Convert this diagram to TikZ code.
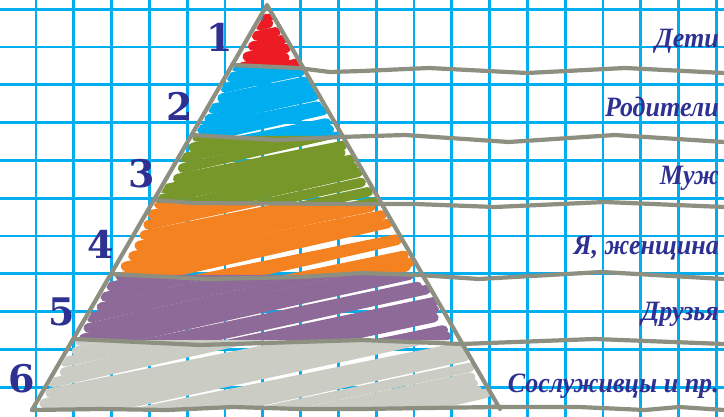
\documentclass[tikz,border=0pt]{standalone}
\usepackage{fontspec}
\setmainfont{Liberation Serif}
\newfontfamily\numfont{DejaVu Serif}
\newfontfamily\labfont[FakeStretch=0.93]{Liberation Serif}
\definecolor{gridc}{HTML}{00AEEF}
\definecolor{edgec}{HTML}{8D8F80}
\definecolor{numc}{HTML}{2E3192}
\definecolor{cred}{HTML}{ED1C24}
\definecolor{cblue}{HTML}{00AEEF}
\definecolor{cgreen}{HTML}{77972A}
\definecolor{corange}{HTML}{F58220}
\definecolor{cpurple}{HTML}{8E6A98}
\definecolor{cgray}{HTML}{CBCCC4}
\tikzset{
  gridline/.style={gridc, line width=2.8},
  edge/.style={edgec, line width=4.2, line join=round, line cap=round},
  num/.style={text=numc, font=\numfont\fontsize{38}{38}\selectfont\bfseries, anchor=base, inner sep=0},
  lab/.style={text=numc, font=\labfont\fontsize{28}{28}\selectfont\bfseries\itshape, anchor=base east, inner sep=0}
}
\newcommand\scrib[3]{%
 \begin{scope}
  \pgfmathsetmacro\xlt{267-0.5802*(#1-5)+3}
  \pgfmathsetmacro\xrt{267+0.5767*(#1-5)-2}
  \pgfmathsetmacro\xlb{267-0.5802*(#2-5)+3}
  \pgfmathsetmacro\xrb{267+0.5767*(#2-5)-2}
  \clip (\xlt,#1) -- (\xrt,#1) -- (\xrb,#2) -- (\xlb,#2) -- cycle;
  \pgfmathsetmacro\W{\xrb-\xlb}
  \pgfmathsetmacro\yend{#2+0.24*(\W+40)+12}
  \pgfmathsetmacro\ystart{#1+1}
  \pgfmathsetmacro\ysec{\ystart+10.4}
  \foreach \yy in {\ystart,\ysec,...,\yend} {
    \pgfmathsetmacro\ma{0.2+0.03*rnd}
    \pgfmathsetmacro\xa{267-0.5802*(\yy-5)+4+9*rnd}
    \pgfmathsetmacro\xre{(267+0.5767*(\yy+\ma*\xa-5))/(1+0.5767*\ma)}
    \pgfmathsetmacro\xb{\xre-3-9*rnd}
    \draw[#3, line width=9.6, line cap=round] (\xa,\yy) -- (\xb,{\yy-\ma*(\xb-\xa)});
  }
 \end{scope}}
\begin{document}
\begin{tikzpicture}[x=1pt,y=-1pt]
\pgfmathsetseed{11}
\useasboundingbox (0,0) rectangle (724,417);
\fill[white] (0,0) rectangle (724,417);
% grid
\foreach \k in {0,...,18} \draw[gridline] ({36+37.8*\k},0) -- ({36+37.8*\k},417);
\foreach \k in {0,...,10} \draw[gridline] (0,{9.3+37.8*\k}) -- (724,{9.3+37.8*\k});
% scribbled bands
\scrib{14}{66}{cred}
\scrib{66}{136}{cblue}
\scrib{136}{203}{cgreen}
\scrib{203}{275}{corange}
\scrib{275}{340}{cpurple}
\scrib{340}{409}{cgray}
% boundary lines
\draw[edge] (232,65) -- (298,68) -- (330,72) -- (362,71) -- (429,68) -- (527,73) -- (625,68) -- (724,73);
\draw[edge] (192,135) -- (277,140) -- (340,137) -- (405,135) -- (509,142) -- (615,135) -- (724,142);
\draw[edge] (153,200) -- (193,203) -- (362,204) -- (415,204) -- (495,207) -- (605,202) -- (724,207);
\draw[edge] (111,274) -- (207,279) -- (300,277) -- (362,273) -- (419,275) -- (479,279) -- (602,272) -- (724,279);
\draw[edge] (75,339) -- (200,345) -- (362,340) -- (462,344) -- (595,339) -- (724,344);
\draw[edge] (32,410) -- (100,409) -- (167,410) -- (233,407) -- (300,409) -- (362,409) -- (495,407) -- (579,407) -- (645,410) -- (679,407) -- (724,410);
% triangle sides
\draw[edge] (32,410) -- (267,5) -- (500,409);
% numbers
\node[num] (n1) at (220,52) {1};
\node[num] (n2) at (180,121) {2};
\node[num] (n3) at (142,188) {3};
\node[num] (n4) at (101,259) {4};
\node[num] (n5) at (62,325) {5};
\node[num] (n6) at (22,392) {6};
% labels
\node[lab] (l1) at (719,48) {Дети};
\node[lab] (l2) at (719,117) {Родители};
\node[lab] (l3) at (719,185) {Муж};
\node[lab] (l4) at (719,255) {Я, женщина};
\node[lab] (l5) at (719,320) {Друзья};
\node[lab] (l6) at (719,392) {Сослуживцы и пр.};
\end{tikzpicture}
\end{document}
